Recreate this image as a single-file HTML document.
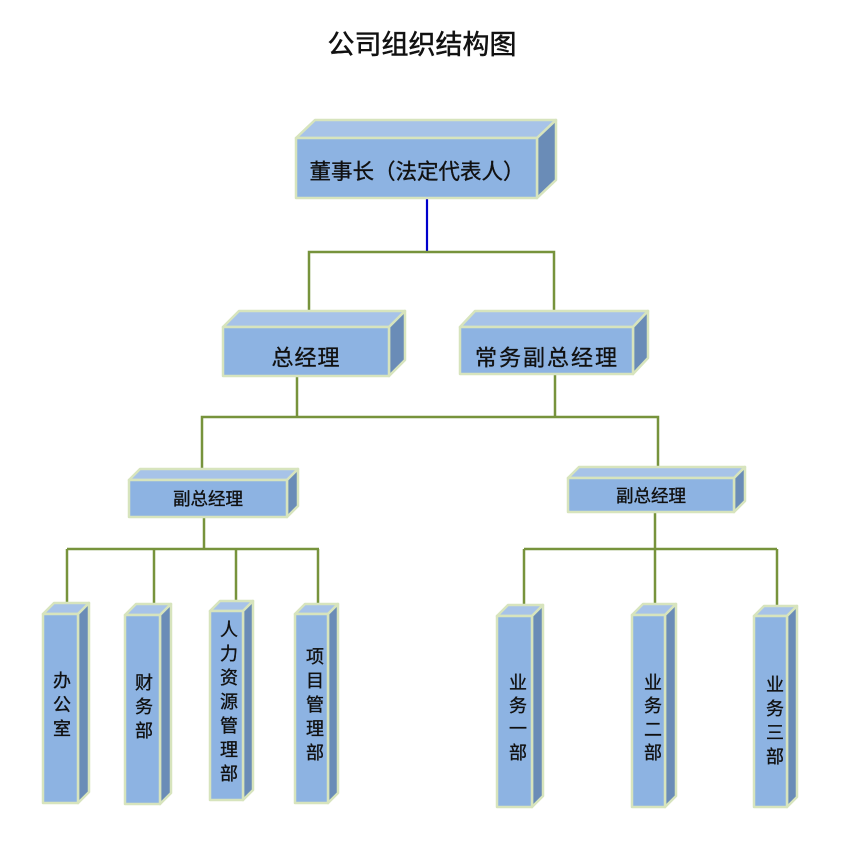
<!DOCTYPE html>
<html><head><meta charset="utf-8"><style>
html,body{margin:0;padding:0;background:#fff;}
svg{display:block;}
text{font-family:"Liberation Sans","Noto Sans CJK SC","WenQuanYi Zen Hei",sans-serif;fill:#111;stroke:#111;stroke-width:0.35;}
.f{fill:#8DB3E2;stroke:#D7E4BD;stroke-width:2.5;stroke-linejoin:round;}
.t{fill:#A7C3E8;stroke:#D7E4BD;stroke-width:2.5;stroke-linejoin:round;}
.s{fill:#6A8CB7;stroke:#D7E4BD;stroke-width:2.5;stroke-linejoin:round;}
.l{stroke:#77933C;stroke-width:2.5;fill:none;}
</style></head><body>
<svg width="846" height="842" viewBox="0 0 846 842" xmlns="http://www.w3.org/2000/svg">
<text x="422" y="45" font-size="27" text-anchor="middle" dominant-baseline="central" style="stroke-width:0.5">公司组织结构图</text>

<!-- connectors -->
<line x1="427" y1="198" x2="427" y2="252" stroke="#0000CC" stroke-width="2.2"/>
<polyline class="l" points="309,311 309,252 554,252 554,311"/>
<line class="l" x1="297" y1="376" x2="297" y2="417"/>
<line class="l" x1="555" y1="374" x2="555" y2="417"/>
<polyline class="l" points="202,469 202,417 658,417 658,467"/>
<line class="l" x1="204" y1="517" x2="204" y2="549"/>
<line class="l" x1="67" y1="549" x2="319" y2="549"/>
<line class="l" x1="67" y1="549" x2="67" y2="604"/>
<line class="l" x1="154" y1="549" x2="154" y2="605"/>
<line class="l" x1="236" y1="549" x2="236" y2="601"/>
<line class="l" x1="318" y1="549" x2="318" y2="605"/>
<line class="l" x1="655" y1="512" x2="655" y2="549"/>
<line class="l" x1="524" y1="549" x2="777" y2="549"/>
<line class="l" x1="524" y1="549" x2="524" y2="606"/>
<line class="l" x1="655" y1="549" x2="655" y2="605"/>
<line class="l" x1="777" y1="549" x2="777" y2="607"/>

<!-- box 1 top -->
<g>
<polygon class="t" points="296,138 315,120 556,120 537,138"/>
<polygon class="s" points="537,138 556,120 556,180 537,198"/>
<rect class="f" x="296" y="138" width="241" height="60"/>
<text x="417" y="172" font-size="21.5" text-anchor="middle" dominant-baseline="central">董事长（法定代表人）</text>
</g>

<!-- 总经理 -->
<g>
<polygon class="t" points="223,327 239,311 405,311 389,327"/>
<polygon class="s" points="389,327 405,311 405,360 389,376"/>
<rect class="f" x="223" y="327" width="166" height="49"/>
<text x="306" y="358" font-size="22" text-anchor="middle" dominant-baseline="central" letter-spacing="1">总经理</text>
</g>

<!-- 常务副总经理 -->
<g>
<polygon class="t" points="460,327 475,311 648,311 633,327"/>
<polygon class="s" points="633,327 648,311 648,358 633,374"/>
<rect class="f" x="460" y="327" width="173" height="47"/>
<text x="547" y="358" font-size="22" text-anchor="middle" dominant-baseline="central" letter-spacing="2">常务副总经理</text>
</g>

<!-- 副总经理 L -->
<g>
<polygon class="t" points="129,480 140,469 298,469 287,480"/>
<polygon class="s" points="287,480 298,469 298,506 287,517"/>
<rect class="f" x="129" y="480" width="158" height="37"/>
<text x="208" y="499" font-size="17.5" text-anchor="middle" dominant-baseline="central">副总经理</text>
</g>

<!-- 副总经理 R -->
<g>
<polygon class="t" points="568,478 579,467 745,467 734,478"/>
<polygon class="s" points="734,478 745,467 745,501 734,512"/>
<rect class="f" x="568" y="478" width="166" height="34"/>
<text x="651" y="496" font-size="17.5" text-anchor="middle" dominant-baseline="central">副总经理</text>
</g>

<!-- 办公室 -->
<g>
<polygon class="t" points="43,614 54,603 89,603 78,614"/>
<polygon class="s" points="78,614 89,603 89,792 78,803"/>
<rect class="f" x="43" y="614" width="35" height="189"/>
<g font-size="18" text-anchor="middle">
<text x="62" y="681" dominant-baseline="central">办</text>
<text x="62" y="705" dominant-baseline="central">公</text>
<text x="62" y="729" dominant-baseline="central">室</text>
</g>
</g>

<!-- 财务部 -->
<g>
<polygon class="t" points="125,615 136,604 171,604 160,615"/>
<polygon class="s" points="160,615 171,604 171,793 160,804"/>
<rect class="f" x="125" y="615" width="35" height="189"/>
<g font-size="18" text-anchor="middle">
<text x="144" y="683" dominant-baseline="central">财</text>
<text x="144" y="707" dominant-baseline="central">务</text>
<text x="144" y="731" dominant-baseline="central">部</text>
</g>
</g>

<!-- 人力资源管理部 -->
<g>
<polygon class="t" points="210,611 220,601 253,601 243,611"/>
<polygon class="s" points="243,611 253,601 253,790 243,800"/>
<rect class="f" x="210" y="611" width="33" height="189"/>
<g font-size="18" text-anchor="middle">
<text x="229" y="630" dominant-baseline="central">人</text>
<text x="229" y="654" dominant-baseline="central">力</text>
<text x="229" y="678" dominant-baseline="central">资</text>
<text x="229" y="702" dominant-baseline="central">源</text>
<text x="229" y="726" dominant-baseline="central">管</text>
<text x="229" y="750" dominant-baseline="central">理</text>
<text x="229" y="774" dominant-baseline="central">部</text>
</g>
</g>

<!-- 项目管理部 -->
<g>
<polygon class="t" points="295,614 305,604 338,604 328,614"/>
<polygon class="s" points="328,614 338,604 338,793 328,803"/>
<rect class="f" x="295" y="614" width="33" height="189"/>
<g font-size="18" text-anchor="middle">
<text x="315" y="657" dominant-baseline="central">项</text>
<text x="315" y="681" dominant-baseline="central">目</text>
<text x="315" y="705" dominant-baseline="central">管</text>
<text x="315" y="729" dominant-baseline="central">理</text>
<text x="315" y="753" dominant-baseline="central">部</text>
</g>
</g>

<!-- 业务一部 -->
<g>
<polygon class="t" points="497,616 508,605 543,605 532,616"/>
<polygon class="s" points="532,616 543,605 543,796 532,807"/>
<rect class="f" x="497" y="616" width="35" height="191"/>
<g font-size="18" text-anchor="middle">
<text x="518" y="683" dominant-baseline="central">业</text>
<text x="518" y="706" dominant-baseline="central">务</text>
<text x="518" y="729" dominant-baseline="central">一</text>
<text x="518" y="753" dominant-baseline="central">部</text>
</g>
</g>

<!-- 业务二部 -->
<g>
<polygon class="t" points="632,615 643,604 676,604 665,615"/>
<polygon class="s" points="665,615 676,604 676,796 665,807"/>
<rect class="f" x="632" y="615" width="33" height="192"/>
<g font-size="18" text-anchor="middle">
<text x="653" y="683" dominant-baseline="central">业</text>
<text x="653" y="706" dominant-baseline="central">务</text>
<text x="653" y="730" dominant-baseline="central">二</text>
<text x="653" y="753" dominant-baseline="central">部</text>
</g>
</g>

<!-- 业务三部 -->
<g>
<polygon class="t" points="754,616 764,606 797,606 787,616"/>
<polygon class="s" points="787,616 797,606 797,797 787,807"/>
<rect class="f" x="754" y="616" width="33" height="191"/>
<g font-size="18" text-anchor="middle">
<text x="775" y="685" dominant-baseline="central">业</text>
<text x="775" y="709" dominant-baseline="central">务</text>
<text x="775" y="733" dominant-baseline="central">三</text>
<text x="775" y="757" dominant-baseline="central">部</text>
</g>
</g>
</svg>
</body></html>
